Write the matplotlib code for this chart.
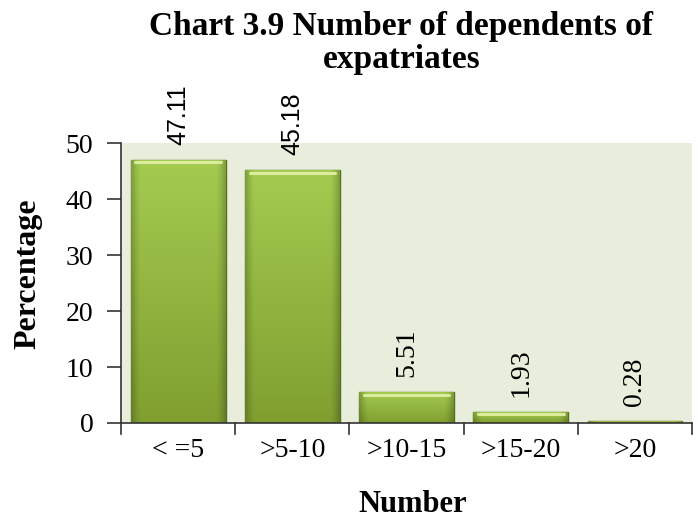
import matplotlib
matplotlib.use("Agg")
import matplotlib.pyplot as plt
import numpy as np

categories = ["< =5", ">5-10", ">10-15", ">15-20", ">20"]
values = [47.11, 45.18, 5.51, 1.93, 0.28]
value_labels = ["47.11", "45.18", "5.51", "1.93", "0.28"]
yticks = [0, 10, 20, 30, 40, 50]

serif = "Liberation Serif"

fig = plt.figure(figsize=(6.98, 5.21), dpi=100)
ax = fig.add_axes([0.1734, 0.1881, 0.8180, 0.5365])
ax.set_facecolor("#e8eedb")

x = np.arange(len(categories))
width = 0.83
bars = ax.bar(x, values, width=width, color="#8db63b", edgecolor="#55701c",
              linewidth=1.0, zorder=2)

# gradient fill clipped to each bar: vertical light->dark, darker side edges
ny, nx = 64, 64
vy = np.linspace(0, 1, ny)[:, None]          # 0 bottom .. 1 top
hx = np.linspace(-1, 1, nx)[None, :]
top_c = np.array([0xa4, 0xcb, 0x50]) / 255.0
bot_c = np.array([0x80, 0x9f, 0x30]) / 255.0
base = bot_c[None, None, :] + (top_c - bot_c)[None, None, :] * vy[:, :, None]
shade = 1.0 - 0.22 * np.clip((np.abs(hx) - 0.8) / 0.2, 0, 1) ** 1.5
rgb = np.clip(base * shade[:, :, None], 0, 1)
for b in bars:
    x0, y0 = b.get_x(), b.get_y()
    w, h = b.get_width(), b.get_height()
    im = ax.imshow(rgb, origin="lower", aspect="auto",
                   extent=[x0, x0 + w, y0, y0 + h],
                   zorder=2.5, interpolation="bicubic")
    im.set_clip_path(b)
    if h > 0.5:
        ax.plot([x0 + 0.04, x0 + w - 0.04], [y0 + h - min(0.45, h * 0.18)] * 2,
                color="#dcec9e", lw=2.2, zorder=3, solid_capstyle="round")

ax.set_xlim(-0.5, len(categories) - 0.5)
ax.set_ylim(0, 50)
ax.set_yticks(yticks)
ax.set_yticklabels([str(t) for t in yticks], fontsize=20, family=serif)
ax.set_xticks(x)
ax.set_xticklabels(categories, fontsize=20, family=serif)
ax.tick_params(axis="x", length=0, pad=11)
ax.tick_params(axis="y", length=10, width=1.2, color="#333333", pad=10)
# boundary ticks on x axis
for bx in np.arange(-0.5, len(categories), 1.0):
    ax.plot([bx, bx], [0, -1.9], color="#333333", lw=1.2, clip_on=False, zorder=5)

for s in ["top", "right"]:
    ax.spines[s].set_visible(False)
ax.spines["left"].set_color("#333333")
ax.spines["left"].set_linewidth(1.2)
ax.spines["bottom"].set_color("#333333")
ax.spines["bottom"].set_linewidth(1.2)

for i, (v, lab) in enumerate(zip(values, value_labels)):
    if i < 2:
        ax.text(i, v + 2.7, lab, rotation=90, ha="center", va="bottom",
                fontsize=18, family="Liberation Sans", clip_on=False)
    else:
        ax.text(i, v + 2.7, lab, rotation=90, ha="center", va="bottom",
                fontsize=20, family=serif, clip_on=False)

ax.set_xlabel("Number", fontsize=22, fontweight="bold", family=serif)
ax.xaxis.set_label_coords(0.51, -0.24)
ax.set_ylabel("Percentage", fontsize=23, fontweight="bold", family=serif)
ax.yaxis.set_label_coords(-0.137, 0.535)

fig.text(0.575, 0.978, "Chart 3.9 Number of dependents of\nexpatriates", ha="center",
         va="top", fontsize=24, fontweight="bold", family=serif, linespacing=1.05)

fig.savefig("out.png", dpi=100)
